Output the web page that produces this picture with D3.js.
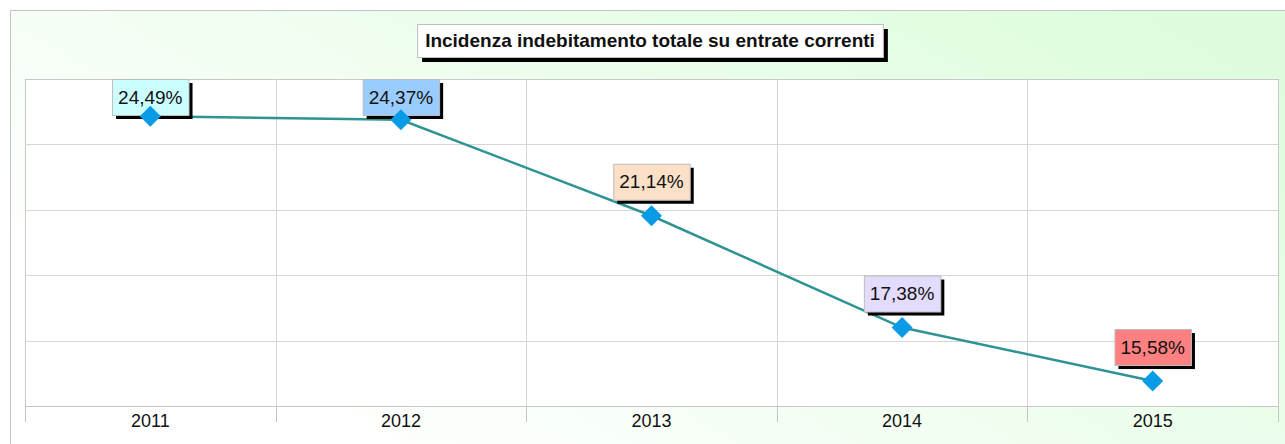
<!DOCTYPE html>
<html>
<head>
<meta charset="utf-8">
<script src="https://cdn.jsdelivr.net/npm/d3@7"></script>
<style>
  body { margin: 0; background: #fff; }
  text { font-family: "Liberation Sans", Arial, sans-serif; }
</style>
</head>
<body>
<div id="viz"></div>
<script>
const years = ['2011', '2012', '2013', '2014', '2015'];
const values = [24.49, 24.37, 21.14, 17.38, 15.58];
const labels = ['24,49%', '24,37%', '21,14%', '17,38%', '15,58%'];
const labelFills = ['#ccffff', '#99ccff', '#fde0c8', '#e4dcff', '#ff8080'];
const title = 'Incidenza indebitamento totale su entrate correnti';

const width = 1285;
const height = 444;
const plot = { left: 25, top: 79, right: 1278, bottom: 406 };

const svg = d3.select('#viz')
    .append('svg')
    .attr('width', width)
    .attr('height', height);

const defs = svg.append('defs');
const grad = defs.append('linearGradient')
    .attr('id', 'bg')
    .attr('x1', '0%').attr('y1', '80%')
    .attr('x2', '100%').attr('y2', '20%');
grad.append('stop').attr('offset', '0%').attr('stop-color', '#ffffff');
grad.append('stop').attr('offset', '10%').attr('stop-color', '#ffffff');
grad.append('stop').attr('offset', '100%').attr('stop-color', '#defdde');

// outer frame
svg.append('rect')
    .attr('x', 10.5).attr('y', 10.5)
    .attr('width', width).attr('height', height)
    .attr('fill', 'url(#bg)')
    .attr('stroke', '#c4c4c4');

const xScale = d3.scaleBand().domain(years).range([plot.left, plot.right]);
const yScale = d3.scaleLinear().domain([14.74, 25.74]).range([plot.bottom, plot.top]);

// plot area
svg.append('rect')
    .attr('x', plot.left + 0.5).attr('y', plot.top + 0.5)
    .attr('width', plot.right - plot.left).attr('height', plot.bottom - plot.top)
    .attr('fill', '#fff')
    .attr('stroke', '#c8c8c8');

const yDom = yScale.domain();
const gridVals = d3.range(1, 5).map(i => yDom[0] + (yDom[1] - yDom[0]) * i / 5);
svg.append('g')
    .selectAll('line')
    .data(gridVals)
    .enter()
    .append('line')
    .attr('x1', plot.left).attr('x2', plot.right)
    .attr('y1', d => Math.round(yScale(d)) + 0.5)
    .attr('y2', d => Math.round(yScale(d)) + 0.5)
    .attr('stroke', '#d6d6d6');

svg.append('g')
    .selectAll('line')
    .data(years.slice(1))
    .enter()
    .append('line')
    .attr('x1', d => Math.round(xScale(d)) + 0.5)
    .attr('x2', d => Math.round(xScale(d)) + 0.5)
    .attr('y1', plot.top).attr('y2', plot.bottom)
    .attr('stroke', '#d6d6d6');

// x axis
const xAxis = d3.axisBottom(xScale).tickSize(0).tickPadding(8);
const gx = svg.append('g')
    .attr('transform', 'translate(0,' + plot.bottom + ')')
    .call(xAxis);
gx.select('.domain').remove();
gx.selectAll('text')
    .attr('font-size', 18)
    .attr('font-family', '"Liberation Sans", Arial, sans-serif')
    .attr('fill', '#111');
const bounds = years.map(d => xScale(d)).concat([plot.right]);
gx.selectAll('.bound')
    .data(bounds)
    .enter()
    .append('line')
    .attr('class', 'bound')
    .attr('x1', d => Math.round(d) + 0.5)
    .attr('x2', d => Math.round(d) + 0.5)
    .attr('y1', 0).attr('y2', 16)
    .attr('stroke', '#c4c4c4');

// line
const cx = d => xScale(d) + xScale.bandwidth() / 2;
const line = d3.line()
    .x((d, i) => cx(years[i]))
    .y(d => yScale(d));
svg.append('path')
    .datum(values)
    .attr('d', line)
    .attr('fill', 'none')
    .attr('stroke', '#2e9393')
    .attr('stroke-width', 2.5);

// labels
const labelG = svg.append('g');
values.forEach((v, i) => {
    const x = cx(years[i]);
    const y = yScale(v);
    const g = labelG.append('g');
    const t = g.append('text')
        .attr('font-size', 19)
        .attr('text-anchor', 'middle')
        .attr('fill', '#111')
        .text(labels[i]);
    const w = t.node().getComputedTextLength() + 12;
    const h = 36;
    const top = Math.max(plot.top, y - 52);
    g.insert('rect', 'text')
        .attr('x', x - w / 2 + 4).attr('y', top + 4)
        .attr('width', w).attr('height', h)
        .attr('fill', '#000');
    g.insert('rect', 'text')
        .attr('x', x - w / 2 + 0.5).attr('y', top + 0.5)
        .attr('width', w).attr('height', h)
        .attr('fill', labelFills[i])
        .attr('stroke', '#bdbdbd');
    t.attr('x', x).attr('y', top + h / 2 + 6.5);
});

// markers
svg.append('g')
    .selectAll('path')
    .data(values)
    .enter()
    .append('path')
    .attr('d', d3.symbol().type(d3.symbolSquare).size(220))
    .attr('transform', (d, i) => 'translate(' + cx(years[i]) + ',' + yScale(d) + ') rotate(45)')
    .attr('fill', '#0a9be6');

// title
const tg = svg.append('g');
const tt = tg.append('text')
    .attr('font-size', 19)
    .attr('font-weight', 'bold')
    .attr('text-anchor', 'middle')
    .attr('fill', '#111')
    .text(title);
const tw = tt.node().getComputedTextLength() + 16;
const tcx = 650, ttop = 24, th = 33;
tg.insert('rect', 'text')
    .attr('x', tcx - tw / 2 + 5).attr('y', ttop + 5)
    .attr('width', tw).attr('height', th)
    .attr('fill', '#000');
tg.insert('rect', 'text')
    .attr('x', tcx - tw / 2 + 0.5).attr('y', ttop + 0.5)
    .attr('width', tw).attr('height', th)
    .attr('fill', '#fff')
    .attr('stroke', '#bdbdbd');
tt.attr('x', tcx).attr('y', ttop + th / 2 + 6.5);
</script>
</body>
</html>
